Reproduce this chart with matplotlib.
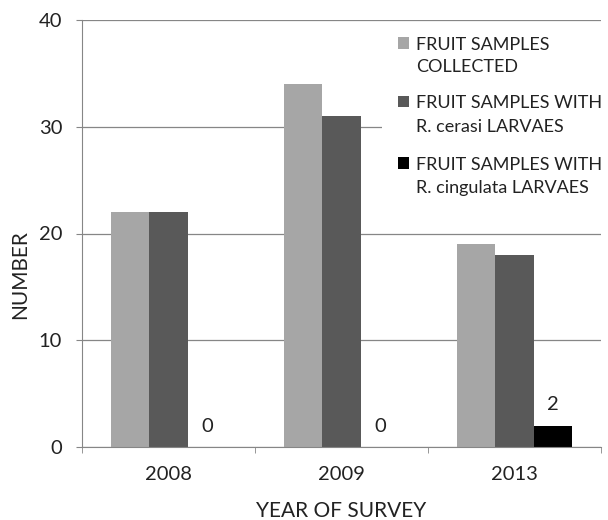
import numpy as np
import matplotlib
matplotlib.use("Agg")
import matplotlib.pyplot as plt
from matplotlib.patches import Rectangle

plt.rcParams['font.family'] = ['Lato', 'DejaVu Sans']

years = ["2008", "2009", "2013"]
collected = [22, 34, 19]
cerasi = [22, 31, 18]
cingulata = [0, 0, 2]

series_names = ["FRUIT SAMPLES\nCOLLECTED",
                "FRUIT SAMPLES WITH\nR. cerasi LARVAES",
                "FRUIT SAMPLES WITH\nR. cingulata LARVAES"]
colors = ["#A6A6A6", "#595959", "#000000"]
txt = "#222222"

W, H = 608, 520
fig = plt.figure(figsize=(W / 100, H / 100), dpi=100)
ax = fig.add_axes([82 / W, 1 - 447 / H, (601 - 82) / W, (447 - 20) / H])

def px(x, y):
    # pixel (from top-left) -> figure fraction
    return x / W, 1 - y / H

x = np.arange(len(years))
w = 0.2225
for i, (vals, c) in enumerate(zip([collected, cerasi, cingulata], colors)):
    ax.bar(x + (i - 1) * w, vals, width=w, color=c, zorder=2)

# data labels on the third series
for xi, v in zip(x, cingulata):
    ax.annotate(str(v), (xi + w, v), xytext=(0, 15), textcoords="offset points",
                ha="center", va="center", fontsize=14.5, color=txt)

ax.set_xlim(-0.5, 2.5)
ax.set_ylim(0, 40)
ax.set_yticks([0, 10, 20, 30, 40])
ax.set_xticks(x)
ax.set_xticklabels(years)
ax.yaxis.grid(True, color="#868686", linewidth=0.9, zorder=0)
ax.set_axisbelow(True)

for s in ["top", "right"]:
    ax.spines[s].set_visible(False)
ax.spines["left"].set_color("#868686")
ax.spines["bottom"].set_color("#868686")
ax.tick_params(axis="y", length=4.3, color="#868686", labelsize=14.5, labelcolor=txt, pad=10)
ax.tick_params(axis="x", length=0, labelsize=14.5, labelcolor=txt, pad=14)
ax.set_xticks([-0.5, 0.5, 1.5, 2.5], minor=True)
ax.tick_params(axis="x", which="minor", length=4.3, color="#868686", direction="out")

fig.text(*px(20, 275), "NUMBER", rotation=90, ha="center", va="center",
         fontsize=15, color=txt)
fig.text(*px(341, 517), "YEAR OF SURVEY", ha="center", va="baseline",
         fontsize=15, color=txt)

# legend drawn by hand: white box, squares aligned with the first text line
fig.add_artist(Rectangle(px(382, 229), (601 - 382) / W, (229 - 24) / H,
                         transform=fig.transFigure, facecolor="white",
                         edgecolor="none", zorder=3))
first_line = [43, 102, 163]
for name, c, yc in zip(series_names, colors, first_line):
    fig.add_artist(Rectangle(px(398, yc + 5.5), 11 / W, 11 / H,
                             transform=fig.transFigure, facecolor=c,
                             edgecolor="none", zorder=4))
    for k, line in enumerate(name.split("\n")):
        t = fig.text(*px(416, yc + 6.5 + 23 * k), line, ha="left", va="baseline",
                     fontsize=13, color=txt)
        t.set_zorder(5)

fig.savefig("out.png", dpi=100)
